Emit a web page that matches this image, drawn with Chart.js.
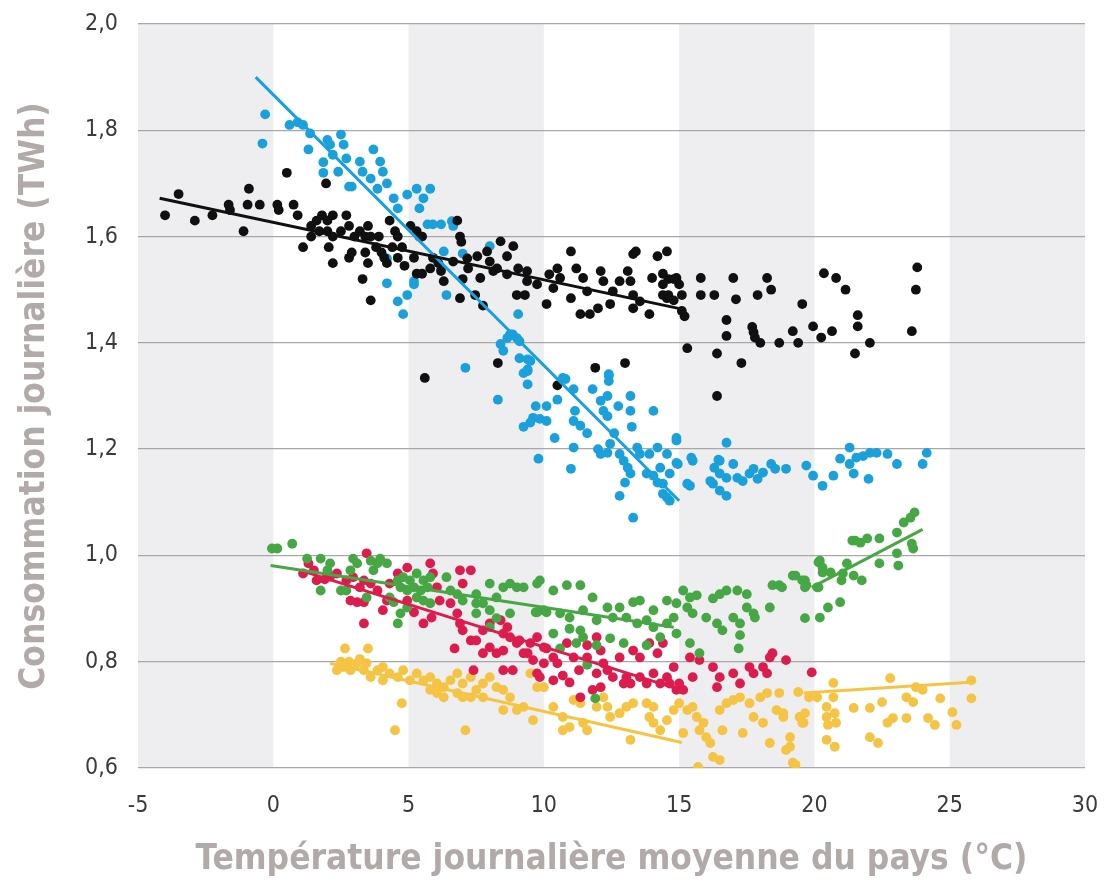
<!DOCTYPE html>
<html>
<head>
<meta charset="utf-8">
<script src="https://cdn.jsdelivr.net/npm/chart.js@4.4.1/dist/chart.umd.min.js"></script>
<style>
  html, body { margin: 0; padding: 0; background: #fff; }
  #wrap { width: 1107px; height: 885px; }
</style>
</head>
<body>
<div id="wrap"><canvas id="chart" width="1107" height="885"></canvas></div>
<script>
// axis setup
const xTicks = [-5, 0, 5, 10, 15, 20, 25, 30];
const yTicks = [0.6, 0.8, 1.0, 1.2, 1.4, 1.6, 1.8, 2.0];
const greyBands = [[-5, 0], [5, 10], [15, 20], [25, 30]];

// series points, [temperature, TWh]
const blackPts = [
  [-4.0,1.64],[-3.5,1.68],[-2.9,1.63],[-2.25,1.64],[-1.65,1.66],[-1.6,1.65],[-1.1,1.61],[-0.9,1.69],[-0.95,1.66],[-0.5,1.66],
  [0.15,1.66],[0.2,1.65],[0.75,1.66],[0.9,1.64],[0.5,1.72],[1.95,1.70],[1.1,1.58],
  [1.4,1.62],[1.6,1.63],[1.8,1.64],[2.0,1.63],[2.2,1.64],[1.4,1.60],[1.7,1.61],[2.0,1.61],[2.2,1.60],[2.05,1.58],[2.2,1.55],
  [2.5,1.61],[2.7,1.64],[2.8,1.62],[2.9,1.57],[2.8,1.56],[3.0,1.60],[3.2,1.61],[3.4,1.60],[3.5,1.62],[3.6,1.60],[3.4,1.57],
  [3.5,1.55],[3.3,1.52],[3.6,1.48],[4.1,1.56],[4.3,1.63],[4.5,1.61],[4.6,1.60],[4.6,1.56],[5.2,1.56],[5.3,1.53],
  [3.8,1.58],[4.0,1.57],[3.9,1.60],[4.2,1.55],[4.4,1.58],[5.9,1.56],[6.1,1.55],[5.8,1.54],[7.2,1.54],[7.0,1.52],
  [5.07,1.62],[5.4,1.60],[5.3,1.61],[5.5,1.60],[6.8,1.63],[6.9,1.60],[6.95,1.59],[4.76,1.58],[4.85,1.545],[5.5,1.53],
  [6.2,1.535],[6.3,1.516],[6.9,1.484],[7.46,1.49],[7.75,1.47],
  [6.65,1.553],[7.17,1.559],[7.54,1.563],[7.9,1.572],[8.0,1.553],[8.4,1.591],[8.87,1.582],[8.64,1.563],[8.27,1.54],[7.65,1.522],
  [8.13,1.535],[8.64,1.529],[9.05,1.54],[9.38,1.535],[9.38,1.516],[9.75,1.51],[9.0,1.49],[9.3,1.49],[10.1,1.473],[10.2,1.529],
  [10.5,1.54],[10.6,1.522],[10.35,1.503],[11.0,1.572],[11.2,1.54],[11.0,1.484],[11.45,1.522],[11.6,1.497],[11.35,1.454],[11.7,1.454],
  [12.0,1.465],[12.1,1.535],[12.2,1.516],[12.45,1.473],[12.55,1.497],[12.8,1.516],[13.1,1.535],[13.2,1.516],[13.3,1.567],[13.4,1.572],
  [13.3,1.49],[13.55,1.478],[13.3,1.465],[14.0,1.522],[13.9,1.454],[14.2,1.563],[14.55,1.572],[14.4,1.51],[14.55,1.484],[14.9,1.522],
  [15.0,1.51],[15.1,1.49],[15.2,1.45],[15.8,1.522],[15.8,1.49],[16.3,1.49],
  [14.4,1.53],[14.6,1.52],[14.8,1.52],[14.4,1.49],[14.6,1.49],[14.8,1.48],[15.1,1.46],
  [15.3,1.39],[16.4,1.38],[13.0,1.362],[11.9,1.353],[8.3,1.362],[5.6,1.334],[10.5,1.32],[16.4,1.30],
  [16.75,1.443],[16.75,1.413],[17.0,1.522],[17.1,1.482],[17.3,1.362],[17.7,1.43],[17.75,1.42],[17.8,1.41],[18.0,1.40],[17.9,1.49],
  [18.25,1.522],[18.4,1.50],[18.7,1.40],[19.2,1.422],[19.4,1.40],[19.55,1.473],[19.95,1.431],[20.25,1.41],[20.35,1.531],[20.8,1.522],
  [21.15,1.50],[20.65,1.422],[21.5,1.38],[21.6,1.431],[21.6,1.452],[22.05,1.40],[23.6,1.422],[23.75,1.50],[23.8,1.542]
];

const bluePts = [
  [-0.3,1.83],[-0.4,1.775],[0.6,1.81],[0.9,1.815],[1.1,1.81],[1.36,1.794],[1.3,1.764],[1.85,1.74],[1.85,1.72],[2.0,1.782],
  [2.1,1.773],[2.5,1.792],[2.6,1.773],[2.2,1.754],[2.4,1.722],[2.7,1.747],[3.2,1.741],[3.3,1.722],[3.7,1.764],[3.95,1.741],
  [4.05,1.722],[3.6,1.709],[3.85,1.69],[4.2,1.70],[2.8,1.694],[2.9,1.694],[4.45,1.672],[4.6,1.653],[4.95,1.679],[5.3,1.69],
  [5.55,1.672],[5.8,1.69],[5.4,1.653],[5.7,1.623],[6.2,1.623],[4.2,1.559],[4.2,1.512],[5.2,1.516],[4.95,1.49],[4.6,1.478],
  [6.3,1.572],[6.2,1.54],[5.9,1.623],[6.6,1.629],[6.65,1.62],[8.0,1.582],[7.0,1.568],[5.2,1.51],[4.8,1.454],[6.4,1.49],[9.05,1.454],
  [8.75,1.416],[9.0,1.409],[8.5,1.385],[9.1,1.371],[9.5,1.366],[9.4,1.347],[7.1,1.353],[10.7,1.334],[12.4,1.341],
  [8.65,1.409],[8.85,1.416],[9.1,1.403],[8.4,1.398],[9.4,1.369],[9.25,1.343],[9.4,1.35],[9.4,1.322],[8.3,1.293],
  [9.7,1.281],[10.1,1.281],[9.6,1.259],[9.85,1.257],[10.1,1.253],[9.25,1.242],[9.5,1.25],[10.5,1.293],[10.8,1.332],[11.1,1.313],
  [11.15,1.272],[11.1,1.253],[11.35,1.244],[11.6,1.23],[10.4,1.221],[9.8,1.182],[11.0,1.163],[11.1,1.203],
  [11.8,1.313],[12.1,1.291],[12.35,1.30],[12.4,1.338],[12.4,1.328],[12.2,1.272],[12.35,1.262],[12.6,1.23],[12.75,1.281],[13.2,1.30],
  [13.2,1.272],[13.25,1.242],[14.05,1.272],
  [12.0,1.20],[12.1,1.191],[12.35,1.193],[12.45,1.21],[12.8,1.191],[12.95,1.178],[13.1,1.165],[13.2,1.154],[13.0,1.137],[13.45,1.203],
  [13.55,1.191],[13.9,1.191],[14.2,1.203],[14.55,1.191],[14.9,1.216],[14.95,1.172],[14.65,1.154],[14.3,1.165],[14.05,1.15],[14.2,1.137],
  [14.4,1.116],[14.65,1.103],[12.8,1.112],[13.3,1.071],[13.8,1.154],[15.5,1.178],[15.4,1.131],[16.25,1.135],[16.5,1.178],
  [14.9,1.221],[16.75,1.212],[14.9,1.174],[15.45,1.184],[14.4,1.135],[14.55,1.109],
  [15.3,1.135],[16.15,1.14],[16.3,1.165],[16.45,1.18],[16.5,1.154],[16.75,1.146],[17.0,1.172],[17.15,1.146],[17.35,1.14],[17.6,1.154],
  [17.75,1.163],[17.9,1.144],[18.1,1.156],[18.4,1.172],[18.55,1.163],[18.95,1.163],[19.7,1.169],[19.95,1.15],[20.3,1.131],[20.7,1.15],
  [20.95,1.182],[21.3,1.203],[21.3,1.172],[21.55,1.184],[21.8,1.187],[22.05,1.193],[22.3,1.193],[22.7,1.191],[23.05,1.172],[21.45,1.154],
  [22.0,1.144],[24.0,1.172],[24.15,1.193],[16.5,1.122],[16.75,1.112]
];

const greenPts = [
  [-0.05,1.013],[0.15,1.013],[0.7,1.022],[1.25,0.994],[1.75,0.994],[2.1,0.985],[2.0,0.972],[2.95,0.994],[3.1,0.985],[3.6,0.99],
  [3.85,0.985],[3.95,0.994],[4.2,0.985],[3.7,0.972],[2.85,0.972],[1.75,0.934],[2.5,0.934],[2.7,0.934],[3.45,0.921],[4.3,0.921],[4.45,0.912],
  [4.6,0.953],[4.8,0.959],[5.05,0.953],[5.3,0.966],[5.55,0.953],[5.8,0.959],[4.7,0.94],[4.95,0.934],[5.2,0.94],[5.45,0.934],
  [5.7,0.94],[5.3,0.921],[5.55,0.915],[5.8,0.91],[4.95,0.902],[4.7,0.891],[4.6,0.872],
  [6.4,0.959],[6.55,0.934],[6.8,0.927],[7.0,0.915],[7.5,0.927],[8.0,0.947],[7.5,0.91],[7.75,0.91],[7.5,0.891],[8.0,0.897],
  [8.25,0.921],[8.5,0.94],[8.75,0.947],[9.0,0.94],[9.25,0.94],[9.75,0.947],[9.85,0.953],[9.7,0.893],[10.0,0.897],[8.75,0.891],
  [8.25,0.882],[8.0,0.865],
  [10.35,0.934],[10.85,0.944],[11.35,0.944],[11.8,0.921],[12.35,0.902],[12.8,0.902],[13.3,0.912],[13.55,0.915],[14.05,0.897],[14.55,0.915],
  [14.9,0.91],[15.15,0.934],[15.4,0.921],[15.65,0.925],[16.25,0.919],[16.5,0.927],[16.75,0.934],[17.15,0.934],[17.5,0.927],[17.75,0.891],
  [18.45,0.944],[18.7,0.944],[19.2,0.962],[19.55,0.953],[19.7,0.944],[20.1,0.94],[19.65,0.882],[20.15,0.987],
  [9.75,0.893],[10.1,0.893],[10.6,0.891],[10.95,0.883],[11.45,0.897],[11.95,0.878],[12.55,0.883],[13.05,0.883],[13.45,0.872],[13.8,0.878],
  [14.05,0.865],[14.55,0.872],[14.8,0.883],[15.3,0.902],[15.5,0.891],[16.0,0.883],[16.4,0.872],[16.6,0.859],[17.0,0.883],[17.25,0.872],
  [17.5,0.902],[17.8,0.883],[18.35,0.902],
  [10.35,0.853],[10.95,0.862],[11.35,0.859],[11.45,0.846],[11.95,0.831],[12.45,0.844],[12.95,0.835],[13.8,0.831],[14.3,0.846],[14.9,0.853],
  [15.4,0.835],[15.75,0.816],[17.25,0.85],[17.2,0.825],[11.2,0.835],[11.6,0.794],[11.9,0.731],[10.6,0.825],
  [18.8,0.94],[19.3,0.962],[19.65,0.953],[19.65,0.94],[20.15,0.94],[20.2,0.883],[20.5,0.902],[20.95,0.912],
  [20.2,0.99],[20.3,0.977],[20.3,0.968],[20.6,0.968],[21.0,0.953],[21.05,0.966],[21.2,0.985],[21.45,0.962],[21.75,0.953],
  [21.4,1.028],[21.5,1.028],[21.7,1.024],[21.95,1.032],[22.4,1.032],[22.4,0.985],[23.05,1.004],[23.1,0.981],[23.05,1.043],
  [23.3,1.062],[23.55,1.071],[23.7,1.081],[23.6,1.022],[23.65,1.013]
];

const redPts = [
  [1.1,0.966],[1.5,0.972],[1.6,0.953],[1.3,0.985],[1.9,0.955],[2.1,0.96],[3.45,1.004],[2.35,0.966],[2.7,0.953],[2.95,0.959],
  [3.35,0.953],[3.2,0.94],[3.6,0.947],[3.85,0.934],[2.85,0.915],[3.1,0.912],[3.35,0.912],[3.35,0.872],[4.05,0.897],[4.2,0.915],
  [4.3,0.947],[4.6,0.966],[4.95,0.977],[4.95,0.915],[5.2,0.893],[5.55,0.872],[5.8,0.985],[5.9,0.966],[6.05,0.94],[6.15,0.915],
  [5.85,0.883],[6.55,0.91],[6.8,0.891],[6.9,0.972],[7.3,0.972],[7.0,0.947],[6.9,0.872],[7.0,0.859],[6.7,0.825],[7.3,0.84],
  [7.5,0.84],[7.75,0.859],[8.0,0.872],[8.4,0.878],[8.65,0.865],[8.5,0.853],[8.75,0.846],[8.0,0.827],[7.75,0.816],[8.25,0.816],
  [8.5,0.821],[9.0,0.835],[9.25,0.816],[9.75,0.846],[10.0,0.827],[10.0,0.797],[9.75,0.778],[8.85,0.784],[8.5,0.784],[7.4,0.784],
  [9.1,0.84],[9.5,0.835],[9.4,0.816],[9.6,0.803],[10.1,0.825],[10.35,0.808],[10.5,0.797],[9.85,0.771],[10.35,0.765],[10.7,0.774],
  [10.95,0.761],[10.85,0.835],[11.1,0.808],[11.3,0.784],[11.6,0.808],[11.6,0.831],[11.95,0.846],[12.1,0.821],[12.2,0.797],[11.95,0.778],
  [12.1,0.752],[12.35,0.784],[12.55,0.771],[12.8,0.808],[13.05,0.771],[12.95,0.759],[13.2,0.759],[13.3,0.821],[13.55,0.808],[13.55,0.771],
  [13.8,0.759],[13.9,0.835],[14.2,0.816],[14.05,0.778],[14.3,0.759],[14.4,0.835],[14.55,0.771],[14.65,0.759],[14.8,0.79],[14.9,0.747],
  [15.15,0.747],[15.0,0.759],[15.5,0.771],[15.4,0.808],[15.75,0.803],[16.25,0.79],[16.4,0.752],[16.5,0.771],[17.0,0.778],[17.25,0.759],
  [17.6,0.79],[17.75,0.778],[18.1,0.79],[18.35,0.808],[18.25,0.778],[18.45,0.816],[18.95,0.803],[19.9,0.78],[11.35,0.733],[11.8,0.747]
];

const yellowPts = [
  [2.65,0.825],[3.5,0.825],[2.35,0.784],[2.6,0.79],[2.85,0.784],[3.1,0.797],[3.35,0.784],[3.45,0.797],[3.6,0.771],[3.85,0.784],
  [4.05,0.79],[4.3,0.778],[4.05,0.765],[4.6,0.771],[4.8,0.784],[5.05,0.765],[5.3,0.778],[5.55,0.765],[5.8,0.771],[6.05,0.759],
  [6.3,0.752],[6.55,0.765],[6.8,0.778],[7.0,0.759],[7.3,0.771],[7.5,0.747],[7.75,0.759],[6.8,0.741],[7.0,0.733],[6.3,0.733],
  [6.05,0.741],[5.8,0.747],[7.3,0.733],[7.75,0.733],[8.0,0.771],[8.25,0.752],[8.5,0.747],[8.75,0.733],[8.5,0.709],[9.0,0.709],
  [9.25,0.715],[9.5,0.778],[9.75,0.752],[10.0,0.752],[9.6,0.69],[4.75,0.722],[4.5,0.671],[7.1,0.671],[2.5,0.80],[2.8,0.80],[3.2,0.805],
  [10.35,0.715],[10.7,0.696],[10.95,0.677],[10.7,0.671],[11.1,0.728],[11.35,0.722],[11.45,0.685],[11.6,0.671],[11.95,0.715],[12.2,0.733],
  [12.35,0.715],[12.45,0.696],[12.8,0.703],[13.05,0.715],[13.2,0.653],[13.3,0.722],[13.8,0.722],[13.9,0.696],[14.05,0.715],[14.05,0.685],
  [14.3,0.671],[14.55,0.69],[14.8,0.709],[15.0,0.722],[15.15,0.666],[15.3,0.709],[15.5,0.715],[15.65,0.696],[15.9,0.685],[15.75,0.671],
  [16.0,0.658],[16.15,0.647],[16.25,0.621],[16.5,0.615],[16.6,0.671],[16.5,0.709],[16.75,0.722],[17.0,0.728],[17.25,0.733],[17.35,0.666],
  [17.6,0.722],[17.75,0.696],[18.0,0.733],[18.25,0.741],[18.1,0.685],[18.35,0.647],[18.6,0.709],[18.7,0.741],[18.85,0.696],[19.1,0.658],
  [18.95,0.634],[19.2,0.61],[19.45,0.696],[19.55,0.685],[19.8,0.733],[20.1,0.733],[15.7,0.602],
  [18.85,0.703],[19.1,0.64],[19.3,0.606],[19.4,0.743],[19.65,0.703],[19.6,0.685],[20.45,0.715],[20.45,0.696],[20.5,0.681],[20.75,0.703],
  [20.8,0.685],[20.45,0.653],[20.75,0.64],[20.7,0.76],[20.7,0.733],[21.45,0.713],[22.05,0.713],[22.5,0.724],[22.05,0.658],[22.35,0.647],
  [22.8,0.769],[22.7,0.685],[22.9,0.694],[23.4,0.733],[23.65,0.724],[24.0,0.747],[23.4,0.694],[24.2,0.694],[24.45,0.681],[24.65,0.731],
  [25.1,0.705],[25.25,0.681],[25.8,0.765],[25.8,0.731],[23.75,0.752]
];

// fitted lines (end points)
const blackTrend = [[-4.2,1.672],[15.15,1.463]];
const blueTrend = [[-0.65,1.90],[15.0,1.103]];
const greenTrendCold = [[-0.1,0.981],[14.8,0.865]];
const greenTrendWarm = [[19.9,0.94],[24.0,1.049]];
const redTrend = [[1.0,0.972],[15.0,0.748]];
const yellowTrendCold = [[2.1,0.797],[15.1,0.648]];
const yellowTrendWarm = [[19.6,0.741],[25.9,0.762]];

const BLACK = '#101010';
const BLUE = '#1aa0da';
const GREEN = '#46a744';
const RED = '#dd1c4e';
const YELLOW = '#f6c444';

function toXY(arr) {
    return arr.map(p => ({x: p[0], y: p[1]}));
}

function dots(pts, color) {
    return {
        data: toXY(pts),
        backgroundColor: color,
        borderWidth: 0,
        pointRadius: 4.9,
        pointHoverRadius: 4.9
    };
}

function trend(pts, color) {
    return {
        data: toXY(pts),
        showLine: true,
        borderColor: color,
        borderWidth: 3,
        pointRadius: 0,
        fill: false
    };
}

// grey/white vertical bands behind the plot
const bandPlugin = {
    id: 'bands',
    beforeDraw(chart) {
        const {ctx, chartArea, scales} = chart;
        ctx.save();
        ctx.fillStyle = '#ffffff';
        ctx.fillRect(0, 0, chart.width, chart.height);
        ctx.fillStyle = '#eeedef';
        greyBands.forEach(b => {
            const x0 = scales.x.getPixelForValue(b[0]);
            const x1 = scales.x.getPixelForValue(b[1]);
            ctx.fillRect(x0, chartArea.top, x1 - x0, chartArea.bottom - chartArea.top);
        });
        ctx.restore();
    }
};

const titleColor = '#b2a9a9';
const tickColor = '#3a3a3a';

// first dataset is drawn on top
new Chart(document.getElementById('chart').getContext('2d'), {
    type: 'scatter',
    data: {
        datasets: [
            trend(blackTrend, BLACK),
            trend(blueTrend, BLUE),
            trend(greenTrendCold, GREEN),
            trend(greenTrendWarm, GREEN),
            trend(redTrend, RED),
            trend(yellowTrendCold, YELLOW),
            trend(yellowTrendWarm, YELLOW),
            dots(blackPts, BLACK),
            dots(bluePts, BLUE),
            dots(greenPts, GREEN),
            dots(redPts, RED),
            dots(yellowPts, YELLOW)
        ]
    },
    options: {
        responsive: false,
        animation: false,
        layout: { padding: { top: 24, right: 22, left: 0, bottom: 0 } },
        plugins: {
            legend: { display: false },
            tooltip: { enabled: false }
        },
        scales: {
            x: {
                type: 'linear',
                min: xTicks[0],
                max: xTicks[xTicks.length - 1],
                afterBuildTicks: (s) => { s.ticks = xTicks.map(v => ({value: v})); },
                afterFit: (s) => { s.height = 117; s.paddingLeft = 0; s.paddingRight = 0; },
                grid: { display: false },
                border: { display: false },
                ticks: {
                    color: tickColor,
                    padding: 16,
                    font: { family: 'DejaVu Sans Condensed', size: 23 },
                    callback: (v) => String(v)
                },
                title: {
                    display: true,
                    text: 'Température journalière moyenne du pays (°C)',
                    color: titleColor,
                    font: { family: 'DejaVu Sans Condensed', size: 35, weight: 'bold' },
                    padding: { top: 0, bottom: 4 }
                }
            },
            y: {
                type: 'linear',
                min: yTicks[0],
                max: yTicks[yTicks.length - 1],
                afterBuildTicks: (s) => { s.ticks = yTicks.map(v => ({value: v})); },
                afterFit: (s) => { s.width = 138; s.paddingTop = 0; s.paddingBottom = 0; },
                grid: { color: '#a8a8a8', lineWidth: 1.3, drawTicks: false },
                border: { display: false },
                ticks: {
                    color: tickColor,
                    padding: 20,
                    font: { family: 'DejaVu Sans Condensed', size: 23 },
                    callback: (v) => v.toFixed(1).replace('.', ',')
                },
                title: {
                    display: true,
                    text: 'Consommation journalière (TWh)',
                    color: titleColor,
                    font: { family: 'DejaVu Sans Condensed', size: 35, weight: 'bold' },
                    padding: { top: 14, bottom: 0 }
                }
            }
        }
    },
    plugins: [bandPlugin]
});
</script>
</body>
</html>
